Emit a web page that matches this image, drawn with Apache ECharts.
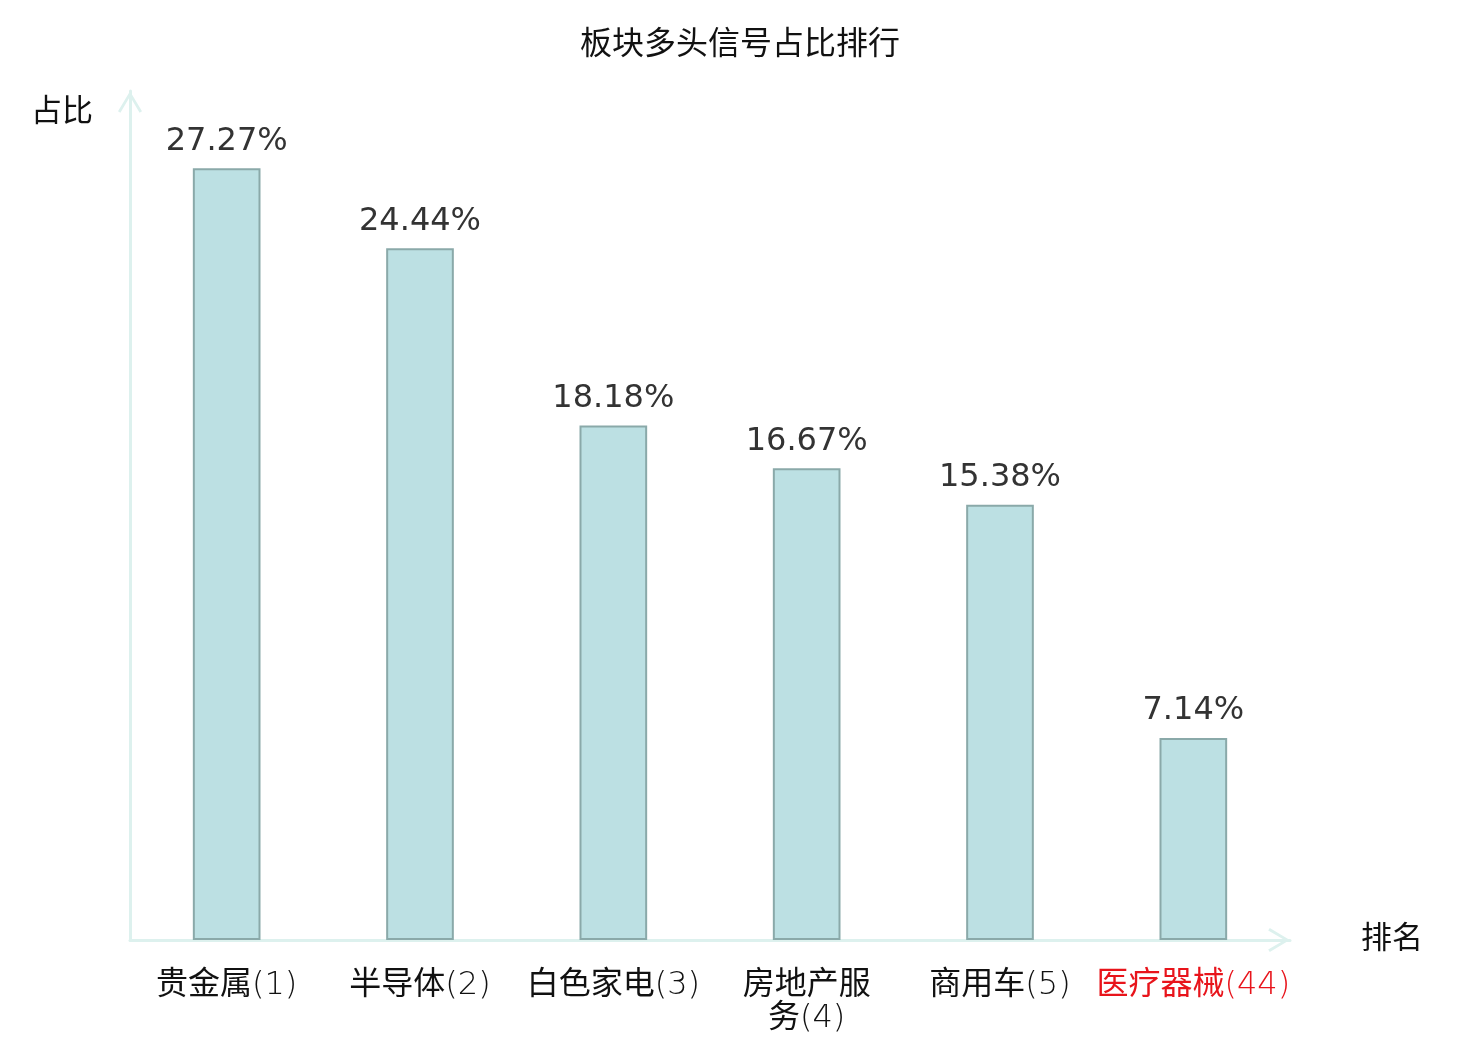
<!DOCTYPE html>
<html>
<head>
<meta charset="utf-8">
<title>板块多头信号占比排行</title>
<script src="https://cdn.jsdelivr.net/npm/echarts@6/dist/echarts.min.js"></script>
<style>
  html, body { margin: 0; padding: 0; background: #fff; }
  #chart { width: 1480px; height: 1040px; }
</style>
</head>
<body>
<div id="chart"></div>
<script>
// 板块名称 / 排名 / 多头信号占比(%)
var sectors = ['贵金属', '半导体', '白色家电', '房地产服务', '商用车', '医疗器械'];
var ranks = [1, 2, 3, 4, 5, 44];
var ratios = [27.27, 24.44, 18.18, 16.67, 15.38, 7.14];
var targetIndex = 5; // 医疗器械 标红

// 名称超过4个字就换行
function wrapName(name) {
    var parts = [];
    for (var i = 0; i < name.length; i += 4) {
        parts.push(name.slice(i, i + 4));
    }
    return parts;
}

var chart = echarts.init(document.getElementById('chart'));

var arrowPath = 'path://M12,0 L24,20 L21.6,21.6 L12,5.2 L2.4,21.6 L0,20 Z';
var axisColor = '#ddf1ee';
var font = '"DejaVu Sans", "Noto Sans CJK SC", sans-serif';
var black = '#111';
var red = '#e8141b';

var option = {
    textStyle: { fontFamily: font },
    title: {
        text: '板块多头信号占比排行',
        left: 'center',
        top: 25,
        textStyle: {
            fontFamily: font,
            fontSize: 32,
            fontWeight: 'normal',
            color: black
        }
    },
    grid: {
        left: 130,
        right: 190,
        top: 91,
        bottom: 100
    },
    xAxis: {
        type: 'category',
        data: sectors,
        name: '排名',
        nameLocation: 'end',
        nameGap: 71,
        nameTextStyle: {
            fontFamily: font,
            fontSize: 31,
            color: black,
            padding: [8, 0, 0, 0]
        },
        axisLine: {
            lineStyle: { color: axisColor, width: 3 },
            symbol: ['none', arrowPath],
            symbolSize: [24, 22],
            symbolOffset: [0, -11]
        },
        axisTick: { show: false },
        axisLabel: {
            interval: 0,
            margin: 29,
            fontFamily: font,
            fontSize: 32,
            lineHeight: 33,
            formatter: function (value, index) {
                var hot = index === targetIndex;
                var n = hot ? 'nr' : 'n';
                var r = hot ? 'rr' : 'r';
                var lines = wrapName(value).map(function (s) {
                    return '{' + n + '|' + s + '}';
                });
                lines[lines.length - 1] += '{' + r + '|(' + ranks[index] + ')}';
                return lines.join('\n');
            },
            rich: {
                n:  { fontFamily: font, fontSize: 32, lineHeight: 33, color: black },
                nr: { fontFamily: font, fontSize: 32, lineHeight: 33, color: red },
                r:  { fontFamily: '"DejaVu Sans"', fontWeight: 200, fontSize: 32, lineHeight: 33, color: black },
                rr: { fontFamily: '"DejaVu Sans"', fontWeight: 200, fontSize: 32, lineHeight: 33, color: red }
            }
        }
    },
    yAxis: {
        type: 'value',
        min: 0,
        max: 30,
        name: '占比',
        nameLocation: 'end',
        nameGap: -22,
        nameTextStyle: {
            fontFamily: font,
            fontSize: 31,
            color: black,
            align: 'right',
            verticalAlign: 'middle',
            padding: [0, 37, 0, 0]
        },
        axisLine: {
            show: true,
            lineStyle: { color: axisColor, width: 3 },
            symbol: ['none', arrowPath],
            symbolSize: [24, 22],
            symbolOffset: [0, -11]
        },
        axisTick: { show: false },
        axisLabel: { show: false },
        splitLine: { show: false }
    },
    series: [
        {
            name: '占比',
            type: 'bar',
            data: ratios,
            barWidth: '35%',
            itemStyle: {
                color: '#bce0e3',
                borderColor: '#8aa9a9',
                borderWidth: 2
            },
            label: {
                show: true,
                position: 'top',
                distance: 11,
                fontFamily: font,
                fontSize: 32,
                color: '#333',
                formatter: function (p) {
                    return p.value.toFixed(2) + '%';
                }
            }
        }
    ]
};

chart.setOption(option);
</script>
</body>
</html>
